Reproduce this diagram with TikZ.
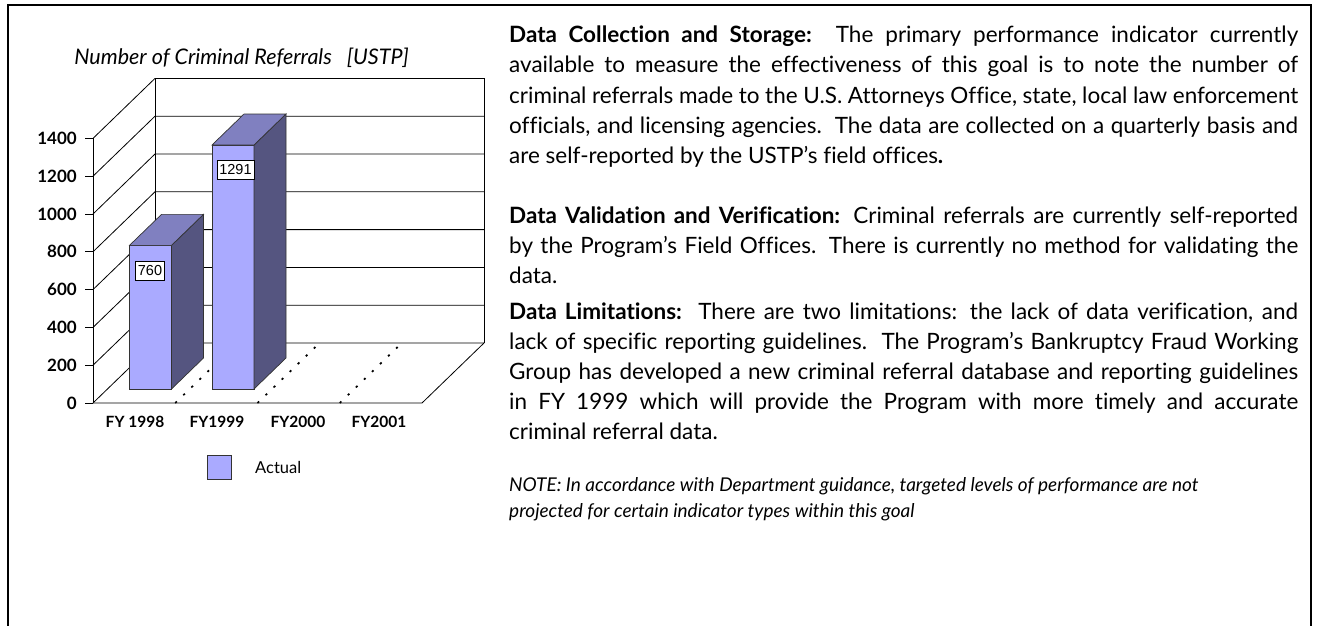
\documentclass[tikz,border=0pt]{standalone}
\usepackage{fontspec}
\setmainfont{Lato}[Ligatures=NoCommon]
\newfontfamily\chartfont{Lato}[Ligatures=NoCommon]
\newfontfamily\arialfont{Liberation Sans}
\definecolor{barfront}{RGB}{170,170,255}
\definecolor{bartop}{RGB}{128,128,192}
\definecolor{barside}{RGB}{85,85,128}
\begin{document}
\begin{tikzpicture}[x=1pt,y=-1pt,
  frameline/.style={line width=2.4pt, black, line join=miter},
  gridline/.style={line width=0.8pt, black},
  dotline/.style={line width=1.7pt, dash pattern=on 2.2pt off 9pt},
  barface/.style={draw=black!80, line width=0.7pt},
  ticklabel/.style={anchor=east, inner sep=0pt, font=\chartfont\bfseries\fontsize{17}{17}\selectfont},
  catlabel/.style={anchor=center, inner sep=0pt, font=\chartfont\bfseries\fontsize{15.5}{15.5}\selectfont},
  valbox/.style={draw=black, line width=0.7pt, fill=white, inner xsep=2.5pt, inner ysep=4.5pt, font=\arialfont\fontsize{14.5}{14.5}\selectfont},
  bodyline/.style={anchor=base west, inner sep=0pt, font=\fontsize{22.5}{30}\selectfont},
  noteline/.style={anchor=base west, inner sep=0pt, font=\itshape\fontsize{19}{24}\selectfont},
]
\useasboundingbox (0,0) rectangle (1319,626);
% frame
\draw[frameline] (8,626) -- (8,5) -- (1311,5) -- (1311,626);
% title
\node[font=\chartfont\itshape\fontsize{21.5}{21.5}\selectfont, inner sep=0pt, anchor=base] (title) at (241.5,65) {Number of Criminal Referrals\hspace{0.7em}[USTP]};
% walls and grid
\foreach \k in {0,...,7} {
  \draw[gridline] (93,{403-37.8*\k}) -- (155,{343-37.8*\k}) -- (484,{343-37.8*\k});
  \draw[gridline] (85,{403-37.8*\k}) -- (93,{403-37.8*\k});
  \pgfmathtruncatemacro\lab{200*\k}
  \node[ticklabel] (t\k) at (77,{403-37.8*\k}) {\lab};
}
\draw[gridline] (155,{343-37.8*7}) -- (155,343);
\draw[gridline] (484,{343-37.8*7}) -- (484,343);
\draw[gridline] (93,{403-37.8*7}) -- (93,403);
\draw[gridline] (93,403) -- (422,403) -- (484,343);
% dotted category separators
\foreach \k in {1,2,3} {
  \draw[dotline] ({93+82.25*\k},403) -- ({155+82.25*\k},343);
}
% bars
\foreach \xa/\v in {129.5/760, 212/1291} {
  \pgfmathsetmacro\xb{\xa+42}
  \pgfmathsetmacro\yt{389-0.189*\v}
  \draw[barface, fill=barfront] (\xa,389) rectangle (\xb,\yt);
  \draw[barface, fill=barside] (\xb,389) -- (\xb+32,358) -- (\xb+32,\yt-31) -- (\xb,\yt) -- cycle;
  \draw[barface, fill=bartop] (\xa,\yt) -- (\xa+32,\yt-31) -- (\xb+32,\yt-31) -- (\xb,\yt) -- cycle;
}
\node[valbox] (v1) at (150,271) {760};
\node[valbox] (v2) at (235.5,170) {1291};
% category labels
\node[catlabel] (c1) at (135,422) {FY 1998};
\node[catlabel] (c2) at (217,422) {FY1999};
\node[catlabel] (c3) at (298,422) {FY2000};
\node[catlabel] (c4) at (379,422) {FY2001};
% legend
\node[draw=black!80, line width=0.7pt, fill=barfront, minimum size=24pt, inner sep=0pt] (legbox) at (219,467) {};
\node[anchor=west, inner sep=0pt, font=\chartfont\fontsize{16.5}{16.5}\selectfont] (legtext) at (255,467) {Actual};
% body text
\node[bodyline] (a1) at (509,43) {\makebox[789pt][s]{\textbf{Data Collection and Storage:}\ \ The primary performance indicator currently}};
\node[bodyline] (a2) at (509,73) {\makebox[789pt][s]{available to measure the effectiveness of this goal is to note the number of}};
\node[bodyline] (a3) at (509,103) {\makebox[789pt][s]{criminal referrals made to the U.S. Attorneys Office, state, local law enforcement}};
\node[bodyline] (a4) at (509,133) {\makebox[789pt][s]{officials, and licensing agencies.\ \ The data are collected on a quarterly basis and}};
\node[bodyline] (a5) at (509,163) {are self-reported by the USTP’s field offices\textbf{.}};
\node[bodyline] (b1) at (509,223) {\makebox[789pt][s]{\textbf{Data Validation and Verification:} Criminal referrals are currently self-reported}};
\node[bodyline] (b2) at (509,253) {\makebox[789pt][s]{by the Program’s Field Offices. There is currently no method for validating the}};
\node[bodyline] (b3) at (509,283) {data.};
\node[bodyline] (d1) at (509,319) {\makebox[789pt][s]{\textbf{Data Limitations:}\ \ There are two limitations: the lack of data verification, and}};
\node[bodyline] (d2) at (509,349) {\makebox[789pt][s]{lack of specific reporting guidelines.\ \ The Program’s Bankruptcy Fraud Working}};
\node[bodyline] (d3) at (509,379) {\makebox[789pt][s]{Group has developed a new criminal referral database and reporting guidelines}};
\node[bodyline] (d4) at (509,409) {\makebox[789pt][s]{in FY 1999 which will provide the Program with more timely and accurate}};
\node[bodyline] (d5) at (509,439) {criminal referral data.};
\node[noteline] (n1) at (509,491) {NOTE: In accordance with Department guidance, targeted levels of performance are not};
\node[noteline] (n2) at (509,517) {projected for certain indicator types within this goal};
\end{tikzpicture}
\end{document}
